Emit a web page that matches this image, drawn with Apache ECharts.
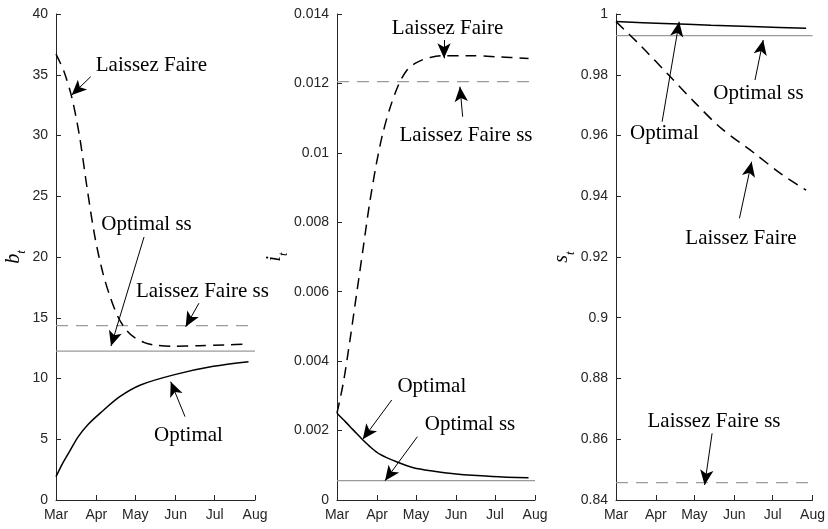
<!DOCTYPE html>
<html>
<head>
<meta charset="utf-8">
<script src="https://cdn.jsdelivr.net/npm/echarts@6/dist/echarts.min.js"></script>
<style>
html,body{margin:0;padding:0;background:#fff;}
#c{width:828px;height:529px;}
</style>
</head>
<body>
<div id="c"></div>
<script>
// ---------- DATA (days since 1 March) ----------
const monthLabels = ['Mar', 'Apr', 'May', 'Jun', 'Jul', 'Aug'];

// Panel 1: b_t
const bDaysLF = [0, 6, 12, 18, 24, 30, 36, 42, 48, 54, 60, 68, 76, 90, 110, 130, 148];
const bLF     = [36.7, 35.3, 33.2, 30.0, 25.6, 21.6, 18.7, 16.6, 15.0, 14.0, 13.4, 12.95, 12.75, 12.65, 12.7, 12.76, 12.83];
const bDaysOpt = [0, 5, 11, 17, 25, 34, 49, 65, 92, 121, 148];
const bOpt     = [1.92, 3.0, 4.1, 5.2, 6.25, 7.15, 8.5, 9.47, 10.34, 11.0, 11.38];
const bSSLF  = 14.35;
const bSSOpt = 12.26;

// Panel 2: i_t
const iDaysLF = [0, 5, 10, 15, 20, 25, 30, 35, 41, 48, 54, 60, 66, 72, 83, 100, 123, 148];
const iLF     = [0.0025, 0.0034, 0.0046, 0.0059, 0.0072, 0.0085, 0.0096, 0.0105, 0.0113, 0.0120, 0.01238, 0.01257, 0.01268, 0.01275, 0.0128, 0.0128, 0.01277, 0.01272];
const iDaysOpt = [0, 5, 10, 15, 20, 26, 33, 46, 59, 75, 92, 120, 148];
const iOpt     = [0.0025, 0.00231, 0.00212, 0.00192, 0.00173, 0.00152, 0.00132, 0.0011, 0.00093, 0.00083, 0.00075, 0.00068, 0.00064];
const iSSLF  = 0.01205;
const iSSOpt = 0.00056;

// Panel 3: s_t
const sDaysLF = [0, 20, 41, 62, 82, 108, 128, 148];
const sLF     = [0.9975, 0.98923, 0.9799, 0.97058, 0.96234, 0.9541, 0.94751, 0.94201];
const sDaysOpt = [0, 37, 74, 111, 148];
const sOpt     = [0.9975, 0.9969, 0.9963, 0.9958, 0.9953];
const sSSLF  = 0.8457;
const sSSOpt = 0.99285;

// Annotations: text centre, arrow from, arrow to  ([day, value])
const annot1 = [
  {text: 'Laissez Faire',    at: [73.4, 35.8],  from: [26.7, 34.84], to: [12.1, 33.33]},
  {text: 'Optimal ss',       at: [69.6, 22.7],  from: [67.7, 21.65], to: [42.3, 12.67]},
  {text: 'Laissez Faire ss', at: [112.6, 17.2], from: [109.9, 16.2], to: [99.7, 14.26]},
  {text: 'Optimal',          at: [101.9, 5.29], from: [99.2, 6.86],  to: [88.2, 9.74]}
];
const annot2 = [
  {text: 'Laissez Faire',    at: [85.4, 0.013588], from: [82.7, 0.013251], to: [82.7, 0.012724]},
  {text: 'Laissez Faire ss', at: [99.7, 0.010514], from: [97.1, 0.011041], to: [95.0, 0.011906]},
  {text: 'Optimal',          at: [73.3, 0.003264], from: [42.3, 0.002881], to: [19.9, 0.001749]},
  {text: 'Optimal ss',       at: [102.8, 0.002189], from: [62.1, 0.001823], to: [37.1, 0.000556]}
];
const annot3 = [
  {text: 'Optimal',          at: [37.7, 0.96072],  from: [35.9, 0.96454],  to: [49.2, 0.99746]},
  {text: 'Optimal ss',       at: [110.9, 0.97390], from: [108.2, 0.97827], to: [114.6, 0.99144]},
  {text: 'Laissez Faire',    at: [97.3, 0.92616],  from: [96.1, 0.93274],  to: [105.6, 0.95137]},
  {text: 'Laissez Faire ss', at: [76.3, 0.86578],  from: [74.8, 0.86196],  to: [69.0, 0.84494]}
];

// ---------- BUILD ----------
const DAY = 86400000;
const T0 = Date.UTC(2020, 2, 1);
const T1 = Date.UTC(2020, 7, 1);
const t = d => T0 + d * DAY;
const pts = (days, vals) => days.map((d, i) => [t(d), vals[i]]);
const flat = v => [[T0, v], [T1, v]];

const AX = '#262626';
const SERIF = '"Liberation Serif", "Times New Roman", serif';
const SANS = '"Liberation Sans", Arial, Helvetica, sans-serif';

function xAx(i) {
  return {
    type: 'time', gridIndex: i, min: T0, max: T1, splitNumber: 5,
    minInterval: 28 * DAY, maxInterval: 31 * DAY,
    axisLine: {lineStyle: {color: AX, width: 1}},
    axisTick: {inside: true, length: 5, lineStyle: {color: AX}},
    axisLabel: {color: AX, fontFamily: SANS, fontSize: 14, margin: 8,
      formatter: v => monthLabels[new Date(v).getUTCMonth() - 2] || '',
      showMinLabel: true, showMaxLabel: true, hideOverlap: false},
    splitLine: {show: false}
  };
}
function yAx(i, min, max, interval, dec, sym, gap) {
  return {
    type: 'value', gridIndex: i, min: min, max: max, interval: interval,
    name: '{v|' + sym + '}{s|t}', nameLocation: 'middle', nameGap: gap,
    nameTextStyle: {rich: {
      v: {fontFamily: SERIF, fontStyle: 'italic', fontSize: 20, color: '#000'},
      s: {fontFamily: SERIF, fontStyle: 'italic', fontSize: 13, color: '#000', verticalAlign: 'bottom', padding: [0, 0, -5, 0]}
    }},
    axisLine: {show: true, lineStyle: {color: AX, width: 1}},
    axisTick: {show: true, inside: true, length: 5, lineStyle: {color: AX}},
    axisLabel: {color: AX, fontFamily: SANS, fontSize: 14, margin: 8,
      formatter: v => String(+v.toFixed(dec))},
    splitLine: {show: false}
  };
}

function panelSeries(i, lfDays, lf, optDays, opt, ssLF, ssOpt, ann) {
  return [
    {type: 'line', xAxisIndex: i, yAxisIndex: i, data: flat(ssOpt), showSymbol: false, z: 1,
      lineStyle: {color: '#9a9a9a', width: 1.2}},
    {type: 'line', xAxisIndex: i, yAxisIndex: i, data: flat(ssLF), showSymbol: false, z: 1,
      lineStyle: {color: '#9a9a9a', width: 1.2, type: [12, 8]}},
    {type: 'line', xAxisIndex: i, yAxisIndex: i, data: pts(optDays, opt), showSymbol: false, z: 3,
      smooth: 0.3, lineStyle: {color: '#000', width: 1.5}},
    {type: 'line', xAxisIndex: i, yAxisIndex: i, data: pts(lfDays, lf), showSymbol: false, z: 3,
      smooth: 0.3, lineStyle: {color: '#000', width: 1.5, type: [11, 7]},
      markLine: {
        silent: true, symbol: ['none', 'arrow'], symbolSize: [10, 15], precision: 6,
        lineStyle: {color: '#000', width: 1, type: 'solid'},
        label: {show: false}, emphasis: {disabled: true},
        data: ann.map(a => [{coord: [t(a.from[0]), a.from[1]]}, {coord: [t(a.to[0]), a.to[1]]}])
      },
      markPoint: {
        silent: true, symbol: 'rect', symbolSize: 1, itemStyle: {color: 'rgba(0,0,0,0)'},
        label: {show: true, position: 'inside', formatter: '{b}', color: '#000', fontFamily: SERIF, fontSize: 21},
        emphasis: {disabled: true},
        data: ann.map(a => ({name: a.text, coord: [t(a.at[0]), a.at[1]]}))
      }
    }
  ];
}

const chart = echarts.init(document.getElementById('c'), null, {renderer: 'canvas'});
chart.setOption({
  animation: false,
  useUTC: true,
  backgroundColor: '#fff',
  grid: [
    {left: 56, right: 573, top: 14, bottom: 29},
    {left: 337, right: 293, top: 14, bottom: 29},
    {left: 616, right: 13, top: 14, bottom: 29}
  ],
  xAxis: [xAx(0), xAx(1), xAx(2)],
  yAxis: [
    yAx(0, 0, 40, 5, 0, 'b', 31),
    yAx(1, 0, 0.014, 0.002, 3, 'i', 35),
    yAx(2, 0.84, 1, 0.02, 2, 's', 39)
  ],
  series: [].concat(
    panelSeries(0, bDaysLF, bLF, bDaysOpt, bOpt, bSSLF, bSSOpt, annot1),
    panelSeries(1, iDaysLF, iLF, iDaysOpt, iOpt, iSSLF, iSSOpt, annot2),
    panelSeries(2, sDaysLF, sLF, sDaysOpt, sOpt, sSSLF, sSSOpt, annot3)
  )
});
</script>
</body>
</html>
